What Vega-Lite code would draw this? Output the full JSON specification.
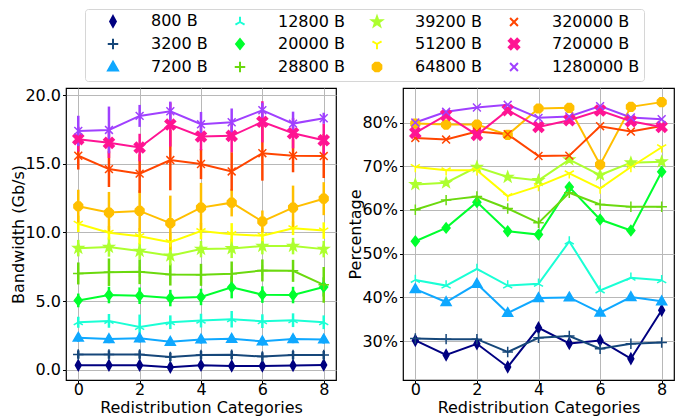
{
"$schema": "https://vega.github.io/schema/vega-lite/v6.json",
"padding": {"left": 10, "top": 8, "right": 3, "bottom": 1},
"data": {"values": [
{"s":"800 B","c":0,"bw":0.34,"lo":0.26,"hi":0.42,"pct":30.15},
{"s":"800 B","c":1,"bw":0.34,"lo":0.26,"hi":0.42,"pct":26.82},
{"s":"800 B","c":2,"bw":0.34,"lo":0.26,"hi":0.42,"pct":29.39},
{"s":"800 B","c":3,"bw":0.20,"lo":0.12,"hi":0.28,"pct":24.09},
{"s":"800 B","c":4,"bw":0.34,"lo":0.26,"hi":0.42,"pct":33.03},
{"s":"800 B","c":5,"bw":0.29,"lo":0.21,"hi":0.37,"pct":29.47},
{"s":"800 B","c":6,"bw":0.29,"lo":0.21,"hi":0.37,"pct":30.15},
{"s":"800 B","c":7,"bw":0.32,"lo":0.24,"hi":0.40,"pct":25.98},
{"s":"800 B","c":8,"bw":0.37,"lo":0.29,"hi":0.45,"pct":37.05},
{"s":"3200 B","c":0,"bw":1.12,"lo":0.82,"hi":1.42,"pct":30.6},
{"s":"3200 B","c":1,"bw":1.12,"lo":0.82,"hi":1.42,"pct":30.45},
{"s":"3200 B","c":2,"bw":1.12,"lo":0.82,"hi":1.42,"pct":30.45},
{"s":"3200 B","c":3,"bw":0.95,"lo":0.65,"hi":1.25,"pct":27.5},
{"s":"3200 B","c":4,"bw":1.08,"lo":0.78,"hi":1.38,"pct":30.76},
{"s":"3200 B","c":5,"bw":1.10,"lo":0.80,"hi":1.40,"pct":31.14},
{"s":"3200 B","c":6,"bw":0.98,"lo":0.68,"hi":1.28,"pct":28.26},
{"s":"3200 B","c":7,"bw":1.08,"lo":0.78,"hi":1.38,"pct":29.39},
{"s":"3200 B","c":8,"bw":1.08,"lo":0.78,"hi":1.38,"pct":29.7},
{"s":"7200 B","c":0,"bw":2.35,"lo":2.05,"hi":2.65,"pct":41.89},
{"s":"7200 B","c":1,"bw":2.25,"lo":1.95,"hi":2.55,"pct":38.94},
{"s":"7200 B","c":2,"bw":2.30,"lo":2.00,"hi":2.60,"pct":43.11},
{"s":"7200 B","c":3,"bw":2.05,"lo":1.75,"hi":2.35,"pct":36.44},
{"s":"7200 B","c":4,"bw":2.22,"lo":1.92,"hi":2.52,"pct":39.85},
{"s":"7200 B","c":5,"bw":2.27,"lo":1.97,"hi":2.57,"pct":40.0},
{"s":"7200 B","c":6,"bw":2.08,"lo":1.78,"hi":2.38,"pct":36.52},
{"s":"7200 B","c":7,"bw":2.25,"lo":1.95,"hi":2.55,"pct":40.08},
{"s":"7200 B","c":8,"bw":2.22,"lo":1.92,"hi":2.52,"pct":39.09},
{"s":"12800 B","c":0,"bw":3.47,"lo":3.07,"hi":3.87,"pct":44.0},
{"s":"12800 B","c":1,"bw":3.57,"lo":3.07,"hi":4.07,"pct":42.7},
{"s":"12800 B","c":2,"bw":3.13,"lo":2.23,"hi":4.03,"pct":46.5},
{"s":"12800 B","c":3,"bw":3.47,"lo":2.97,"hi":3.97,"pct":42.7},
{"s":"12800 B","c":4,"bw":3.59,"lo":3.09,"hi":4.09,"pct":43.1},
{"s":"12800 B","c":5,"bw":3.69,"lo":3.09,"hi":4.29,"pct":52.8},
{"s":"12800 B","c":6,"bw":3.55,"lo":3.05,"hi":4.05,"pct":41.6},
{"s":"12800 B","c":7,"bw":3.62,"lo":3.12,"hi":4.12,"pct":44.5},
{"s":"12800 B","c":8,"bw":3.47,"lo":2.97,"hi":3.97,"pct":43.9},
{"s":"20000 B","c":0,"bw":5.06,"lo":4.56,"hi":5.56,"pct":52.84},
{"s":"20000 B","c":1,"bw":5.45,"lo":4.85,"hi":6.05,"pct":55.9},
{"s":"20000 B","c":2,"bw":5.40,"lo":4.80,"hi":6.00,"pct":61.79},
{"s":"20000 B","c":3,"bw":5.23,"lo":4.63,"hi":5.83,"pct":55.13},
{"s":"20000 B","c":4,"bw":5.31,"lo":4.71,"hi":5.91,"pct":54.37},
{"s":"20000 B","c":5,"bw":6.01,"lo":5.21,"hi":6.81,"pct":65.23},
{"s":"20000 B","c":6,"bw":5.48,"lo":4.88,"hi":6.08,"pct":57.81},
{"s":"20000 B","c":7,"bw":5.45,"lo":4.85,"hi":6.05,"pct":55.29},
{"s":"20000 B","c":8,"bw":6.04,"lo":5.34,"hi":6.74,"pct":68.75},
{"s":"28800 B","c":0,"bw":7.02,"lo":6.22,"hi":7.82,"pct":60.03},
{"s":"28800 B","c":1,"bw":7.11,"lo":6.11,"hi":8.11,"pct":62.25},
{"s":"28800 B","c":2,"bw":7.14,"lo":6.24,"hi":8.04,"pct":63.09},
{"s":"28800 B","c":3,"bw":6.94,"lo":6.14,"hi":7.74,"pct":60.34},
{"s":"28800 B","c":4,"bw":6.92,"lo":6.12,"hi":7.72,"pct":57.05},
{"s":"28800 B","c":5,"bw":6.99,"lo":6.09,"hi":7.89,"pct":63.93},
{"s":"28800 B","c":6,"bw":7.24,"lo":6.44,"hi":8.04,"pct":61.26},
{"s":"28800 B","c":7,"bw":7.21,"lo":6.41,"hi":8.01,"pct":60.72},
{"s":"28800 B","c":8,"bw":6.19,"lo":4.89,"hi":7.49,"pct":60.72},
{"s":"39200 B","c":0,"bw":8.86,"lo":8.26,"hi":9.46,"pct":65.85},
{"s":"39200 B","c":1,"bw":8.94,"lo":8.24,"hi":9.64,"pct":66.23},
{"s":"39200 B","c":2,"bw":8.65,"lo":8.05,"hi":9.25,"pct":69.82},
{"s":"39200 B","c":3,"bw":8.31,"lo":7.61,"hi":9.01,"pct":67.53},
{"s":"39200 B","c":4,"bw":8.79,"lo":8.19,"hi":9.39,"pct":66.76},
{"s":"39200 B","c":5,"bw":8.84,"lo":8.14,"hi":9.54,"pct":71.51},
{"s":"39200 B","c":6,"bw":9.01,"lo":8.41,"hi":9.61,"pct":67.99},
{"s":"39200 B","c":7,"bw":9.01,"lo":8.41,"hi":9.61,"pct":70.82},
{"s":"39200 B","c":8,"bw":8.79,"lo":8.19,"hi":9.39,"pct":71.05},
{"s":"51200 B","c":0,"bw":10.63,"lo":10.03,"hi":11.23,"pct":69.82},
{"s":"51200 B","c":1,"bw":9.98,"lo":9.48,"hi":10.48,"pct":69.06},
{"s":"51200 B","c":2,"bw":9.73,"lo":9.13,"hi":10.33,"pct":69.06},
{"s":"51200 B","c":3,"bw":9.30,"lo":8.60,"hi":10.00,"pct":63.17},
{"s":"51200 B","c":4,"bw":10.10,"lo":9.50,"hi":10.70,"pct":65.46},
{"s":"51200 B","c":5,"bw":9.88,"lo":9.08,"hi":10.68,"pct":68.37},
{"s":"51200 B","c":6,"bw":9.76,"lo":9.16,"hi":10.36,"pct":64.93},
{"s":"51200 B","c":7,"bw":10.31,"lo":9.81,"hi":10.81,"pct":69.82},
{"s":"51200 B","c":8,"bw":10.14,"lo":9.54,"hi":10.74,"pct":74.34},
{"s":"64800 B","c":0,"bw":11.91,"lo":10.71,"hi":13.11,"pct":79.77},
{"s":"64800 B","c":1,"bw":11.45,"lo":9.95,"hi":12.95,"pct":79.54},
{"s":"64800 B","c":2,"bw":11.57,"lo":10.07,"hi":13.07,"pct":79.54},
{"s":"64800 B","c":3,"bw":10.68,"lo":8.68,"hi":12.68,"pct":77.17},
{"s":"64800 B","c":4,"bw":11.81,"lo":10.01,"hi":13.61,"pct":83.21},
{"s":"64800 B","c":5,"bw":12.17,"lo":11.17,"hi":13.17,"pct":83.37},
{"s":"64800 B","c":6,"bw":10.80,"lo":10.00,"hi":11.60,"pct":70.36},
{"s":"64800 B","c":7,"bw":11.81,"lo":10.21,"hi":13.41,"pct":83.6},
{"s":"64800 B","c":8,"bw":12.46,"lo":11.26,"hi":13.66,"pct":84.67},
{"s":"320000 B","c":0,"bw":15.58,"lo":14.58,"hi":16.58,"pct":76.48},
{"s":"320000 B","c":1,"bw":14.61,"lo":13.31,"hi":15.91,"pct":76.1},
{"s":"320000 B","c":2,"bw":14.28,"lo":12.88,"hi":15.68,"pct":77.93},
{"s":"320000 B","c":3,"bw":15.27,"lo":13.07,"hi":17.47,"pct":77.32},
{"s":"320000 B","c":4,"bw":14.98,"lo":13.88,"hi":16.08,"pct":72.35},
{"s":"320000 B","c":5,"bw":14.44,"lo":13.04,"hi":15.84,"pct":72.43},
{"s":"320000 B","c":6,"bw":15.77,"lo":13.77,"hi":17.77,"pct":79.16},
{"s":"320000 B","c":7,"bw":15.58,"lo":14.38,"hi":16.78,"pct":77.93},
{"s":"320000 B","c":8,"bw":15.56,"lo":13.96,"hi":17.16,"pct":79.23},
{"s":"720000 B","c":0,"bw":16.79,"lo":15.89,"hi":17.69,"pct":77.63},
{"s":"720000 B","c":1,"bw":16.52,"lo":15.42,"hi":17.62,"pct":81.68},
{"s":"720000 B","c":2,"bw":16.18,"lo":15.18,"hi":17.18,"pct":77.17},
{"s":"720000 B","c":3,"bw":17.85,"lo":16.25,"hi":19.45,"pct":82.83},
{"s":"720000 B","c":4,"bw":16.98,"lo":15.98,"hi":17.98,"pct":79.0},
{"s":"720000 B","c":5,"bw":17.03,"lo":15.83,"hi":18.23,"pct":80.54},
{"s":"720000 B","c":6,"bw":18.05,"lo":16.55,"hi":19.55,"pct":82.75},
{"s":"720000 B","c":7,"bw":17.22,"lo":16.12,"hi":18.32,"pct":80.31},
{"s":"720000 B","c":8,"bw":16.71,"lo":15.51,"hi":17.91,"pct":79.0},
{"s":"1280000 B","c":0,"bw":17.39,"lo":16.29,"hi":18.49,"pct":80.0},
{"s":"1280000 B","c":1,"bw":17.46,"lo":15.76,"hi":19.16,"pct":82.45},
{"s":"1280000 B","c":2,"bw":18.48,"lo":17.68,"hi":19.28,"pct":83.44},
{"s":"1280000 B","c":3,"bw":18.82,"lo":18.12,"hi":19.52,"pct":84.06},
{"s":"1280000 B","c":4,"bw":17.87,"lo":16.97,"hi":18.77,"pct":81.07},
{"s":"1280000 B","c":5,"bw":18.02,"lo":17.02,"hi":19.02,"pct":81.38},
{"s":"1280000 B","c":6,"bw":18.89,"lo":18.34,"hi":19.44,"pct":83.75},
{"s":"1280000 B","c":7,"bw":17.92,"lo":17.05,"hi":18.79,"pct":81.15},
{"s":"1280000 B","c":8,"bw":18.31,"lo":17.91,"hi":18.71,"pct":80.77}
]},
"spacing": 67,
"bounds": "flush",
"hconcat": [
{
"width": 270, "height": 292,
"layer": [
{"mark": {"type": "rule", "strokeWidth": 2.5},
 "encoding": {
  "x": {"field": "c", "type": "quantitative", "scale": {"domain": [-0.4, 8.4], "nice": false, "zero": false}, "axis": {"values": [0,1,2,3,4,5,6,7,8], "title": "Redistribution Categories", "format": "d", "labelOverlap": false, "labelBound": false}},
  "y": {"field": "lo", "type": "quantitative", "scale": {"domain": [-0.73, 20.51], "nice": false, "zero": false}, "axis": {"values": [0,2.5,5,7.5,10,12.5,15,17.5,20], "format": ".1f", "title": "Bandwidth (Gb/s)"}},
  "y2": {"field": "hi"},
  "color": {"field": "s", "type": "nominal", "title": null, "scale": {"domain": ["800 B","3200 B","7200 B","12800 B","20000 B","28800 B","39200 B","51200 B","64800 B","320000 B","720000 B","1280000 B"], "range": ["#000080","#16477a","#0fa8ff","#1affd5","#00ff2e","#6bd90e","#adff2f","#ffff00","#ffbf00","#ff4500","#ff1493","#a040ff"]},
     "legend": {"title": null, "orient": "none", "legendX": 19, "legendY": -79, "columns": 4, "symbolSize": 110, "symbolStrokeWidth": 2, "symbolOffset": 16, "labelFontSize": 16, "labelColor": "black", "labelOffset": 30, "columnPadding": 8, "rowPadding": 3, "padding": 4, "strokeColor": "#d6d6d6", "fillColor": "white", "cornerRadius": 3, "labelLimit": 300}}
 }},
{"mark": {"type": "line", "strokeWidth": 2},
 "encoding": {
  "x": {"field": "c", "type": "quantitative"},
  "y": {"field": "bw", "type": "quantitative", "title": "Bandwidth (Gb/s)"},
  "color": {"field": "s", "type": "nominal", "title": null}
 }},
{"mark": {"type": "point", "filled": true, "size": 110, "strokeWidth": 1.5, "opacity": 1},
 "encoding": {
  "x": {"field": "c", "type": "quantitative"},
  "y": {"field": "bw", "type": "quantitative", "title": "Bandwidth (Gb/s)"},
  "color": {"field": "s", "type": "nominal", "title": null},
  "shape": {"field": "s", "type": "nominal", "title": null, "scale": {"domain": ["800 B","3200 B","7200 B","12800 B","20000 B","28800 B","39200 B","51200 B","64800 B","320000 B","720000 B","1280000 B"], "range": [
    "M0,-1L0.55,0L0,1L-0.55,0Z",
    "M-1,0H1M0,-1V1",
    "M0,-1L0.95,0.65L-0.95,0.65Z",
    "M0,0V-1M0,0L-0.87,0.5M0,0L0.87,0.5",
    "M0,-0.95L0.75,0L0,0.95L-0.75,0Z",
    "M-1,0H1M0,-1V1",
    "M0,-1L0.235,-0.324L0.951,-0.309L0.38,0.124L0.588,0.809L0,0.4L-0.588,0.809L-0.38,0.124L-0.951,-0.309L-0.235,-0.324Z",
    "M0,0V1M0,0L-0.87,-0.5M0,0L0.87,-0.5",
    "M0.34,-0.83L0.83,-0.34L0.83,0.34L0.34,0.83L-0.34,0.83L-0.83,0.34L-0.83,-0.34L-0.34,-0.83Z",
    "M-0.75,-0.75L0.75,0.75M-0.75,0.75L0.75,-0.75",
    "M-1,-0.6L-0.6,-1L0,-0.4L0.6,-1L1,-0.6L0.4,0L1,0.6L0.6,1L0,0.4L-0.6,1L-1,0.6L-0.4,0Z",
    "M-0.75,-0.75L0.75,0.75M-0.75,0.75L0.75,-0.75"]}},
  "stroke": {"field": "s", "type": "nominal", "scale": {"domain": ["800 B","3200 B","7200 B","12800 B","20000 B","28800 B","39200 B","51200 B","64800 B","320000 B","720000 B","1280000 B"], "range": ["#000080","#16477a","#0fa8ff","#1affd5","#00ff2e","#6bd90e","#adff2f","#ffff00","#ffbf00","#ff4500","#ff1493","#a040ff"]}, "legend": null}
 }}
]
},
{
"width": 271, "height": 292,
"layer": [
{"mark": {"type": "line", "strokeWidth": 2},
 "encoding": {
  "x": {"field": "c", "type": "quantitative", "scale": {"domain": [-0.4, 8.4], "nice": false, "zero": false}, "axis": {"values": [0,1,2,3,4,5,6,7,8], "title": "Redistribution Categories", "format": "d", "labelOverlap": false, "labelBound": false}},
  "y": {"field": "pct", "type": "quantitative", "scale": {"domain": [21.1, 87.9], "nice": false, "zero": false}, "axis": {"values": [30,40,50,60,70,80], "labelExpr": "datum.value + '%'", "title": "Percentage"}},
  "color": {"field": "s", "type": "nominal", "title": null}
 }},
{"mark": {"type": "point", "filled": true, "size": 110, "strokeWidth": 1.5, "opacity": 1},
 "encoding": {
  "x": {"field": "c", "type": "quantitative"},
  "y": {"field": "pct", "type": "quantitative", "title": "Percentage"},
  "color": {"field": "s", "type": "nominal", "title": null},
  "shape": {"field": "s", "type": "nominal", "title": null},
  "stroke": {"field": "s", "type": "nominal", "legend": null}
 }}
]
}
],
"config": {
 "font": "DejaVu Sans",
 "view": {"stroke": "black", "strokeWidth": 1.2},
 "axis": {"grid": true, "gridColor": "#b8b8b8", "gridWidth": 1, "domain": false, "ticks": true, "tickColor": "black", "tickSize": 3.5, "tickWidth": 1, "labelFontSize": 16, "labelColor": "black", "labelPadding": 2, "titleFontSize": 16, "titleFontWeight": "normal", "titleColor": "black"},
 "axisX": {"labelAngle": 0, "titlePadding": 2, "labelPadding": -2, "labelOverlap": false},
 "axisY": {"titlePadding": -2}
}
}
